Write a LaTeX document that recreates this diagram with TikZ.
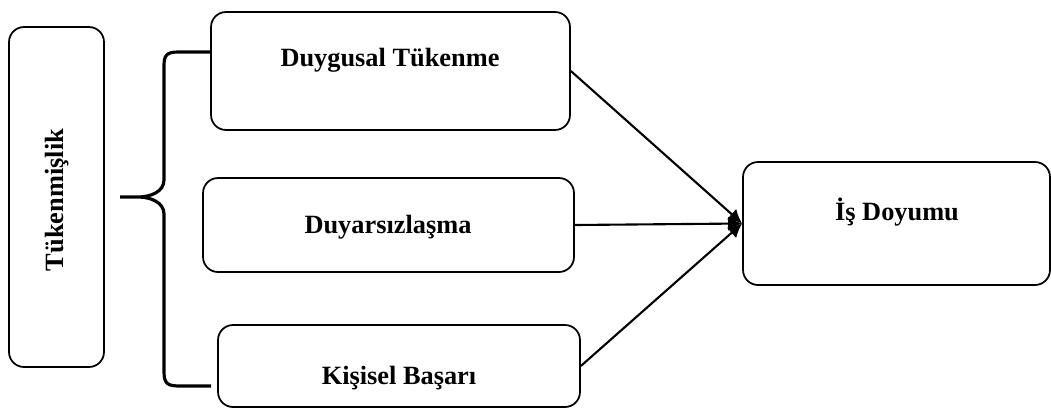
\documentclass[tikz,border=0pt]{standalone}
\usepackage{fontspec}
\setmainfont{Liberation Serif}
\usetikzlibrary{arrows.meta}

\begin{document}
\begin{tikzpicture}[
      x=0.02cm, y=-0.02cm,
      font=\bfseries\fontsize{15}{18}\selectfont,
      box/.style={draw, line width=1pt, rounded corners=0.3cm, inner sep=0pt},
      txt/.style={inner sep=0pt},
      arr/.style={-{Latex[length=8pt,width=8pt]}, line width=1.2pt},
      brace/.style={line width=1.8pt}
    ]
    \useasboundingbox (0,0) rectangle (1051,410);
    % kutular
    \node[box, minimum width=1.9cm, minimum height=6.8cm] (tuk) at (56.5,197) {};
    \node[txt, rotate=90] (tuklbl) at (57,200) {Tükenmişlik};
    \node[box, minimum width=7.18cm, minimum height=2.36cm] (dt) at (390.5,71) {};
    \node[txt] (dtlbl) at (390,60) {Duygusal Tükenme};
    \node[box, minimum width=7.42cm, minimum height=1.88cm] (dy) at (388.5,225) {};
    \node[txt] (dylbl) at (388,227) {Duyarsızlaşma};
    \node[box, minimum width=7.24cm, minimum height=1.64cm] (kb) at (399,366) {};
    \node[txt] (kblbl) at (399,378) {Kişisel Başarı};
    \node[box, minimum width=6.14cm, minimum height=2.46cm] (isd) at (896.5,223.5) {};
    \node[txt] (isdlbl) at (897,212) {İş Doyumu};
    % oklar
    \draw[arr] (dt.east) -- (isd.west);
    \draw[arr] (dy.east) -- (isd.west);
    \draw[arr] (kb.east) -- (isd.west);
    % parantez
    \draw[brace] (211,52) -- (178,52) .. controls (166,52) and (164,56) .. (164,66)
      -- (164,180) .. controls (164,192) and (150,197) .. (138,197) -- (120,197)
      -- (138,197) .. controls (150,197) and (164,202) .. (164,214)
      -- (164,372) .. controls (164,384) and (168,386) .. (180,386) -- (211,386);
  \end{tikzpicture}
\end{document}
